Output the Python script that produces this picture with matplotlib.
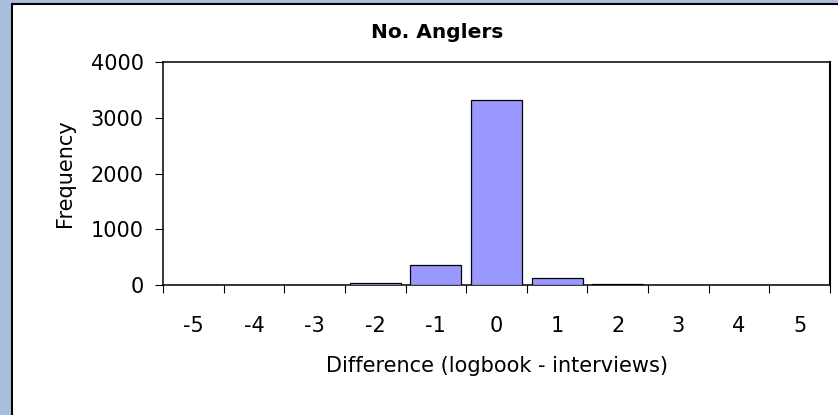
import matplotlib
matplotlib.use('Agg')
import matplotlib.pyplot as plt
from matplotlib.patches import Rectangle
import numpy as np

plt.rcParams['font.family'] = ['DejaVu Sans']

# data
categories = ['-5', '-4', '-3', '-2', '-1', '0', '1', '2', '3', '4', '5']
frequency = [0, 0, 0, 30, 360, 3320, 120, 25, 0, 0, 0]
y_ticks = [0, 1000, 2000, 3000, 4000]

BORDER_BLUE = '#a9bedb'
BAR_COLOR = '#9999ff'

W, H = 838, 415
fig = plt.figure(figsize=(W / 100, H / 100), dpi=100)
fig.patch.set_facecolor(BORDER_BLUE)

# white chart area with black edge, blue strip left and top
fig.patches.append(Rectangle((12 / W, -0.05), 1.2, (411 / H) + 0.05,
                             transform=fig.transFigure, facecolor='white',
                             edgecolor='black', linewidth=1.5, zorder=-10))

ax = fig.add_axes([163 / W, 1 - 285 / H, (830 - 163) / W, (285 - 62) / H])
ax.set_zorder(5)
ax.set_facecolor('white')

x = np.arange(len(categories))
ax.bar(x, frequency, width=0.84, color=BAR_COLOR, edgecolor='black', linewidth=0.9, zorder=3)

ax.set_xlim(-0.5, len(categories) - 0.5)
ax.set_ylim(0, 4000)
ax.set_yticks(y_ticks)
ax.set_yticklabels([str(v) for v in y_ticks])

# ticks between categories, labels at centres
ax.set_xticks(np.arange(len(categories) + 1) - 0.5)
ax.set_xticklabels([])
ax.set_xticks(x, minor=True)
ax.set_xticklabels(categories, minor=True)
ax.tick_params(axis='x', which='major', direction='out', length=6, width=0.8, color='black')
ax.tick_params(axis='x', which='minor', length=0, pad=22, labelsize=15)
ax.tick_params(axis='y', direction='out', length=6, width=0.8, pad=8, labelsize=15)

for s in ax.spines.values():
    s.set_color('black')
    s.set_linewidth(1.1)
ax.spines['right'].set_linewidth(1.5)

ax.set_ylabel('Frequency', fontsize=15, labelpad=11)
ax.set_xlabel('Difference (logbook - interviews)', fontsize=15, labelpad=15)

# title is centred on the chart area rather than the plot area
fig.text(437.5 / W, 1 - 33 / H, 'No. Anglers', ha='center', va='center',
         fontsize=14.5, fontweight='bold')

fig.savefig('out.png', dpi=100, facecolor=BORDER_BLUE)
plt.close(fig)
